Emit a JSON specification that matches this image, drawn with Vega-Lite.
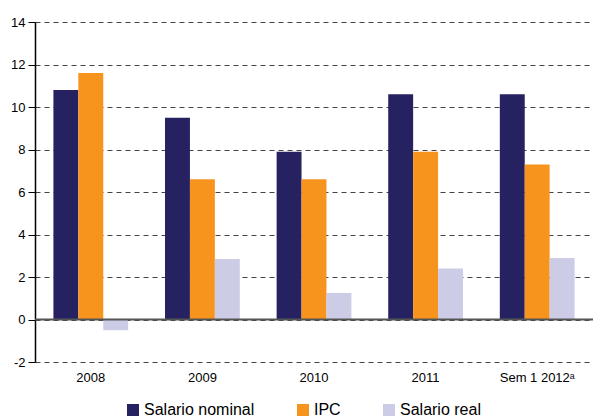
{
  "$schema": "https://vega.github.io/schema/vega-lite/v6.json",
  "autosize": {"type": "none"},
  "padding": {"left": 35, "top": 22, "right": 3, "bottom": 58},
  "width": 558,
  "height": 340,
  "background": "white",
  "config": {
    "font": "Liberation Sans",
    "view": {"stroke": null}
  },
  "data": {
    "values": [
      {"periodo": "2008", "serie": "Salario nominal", "valor": 10.8},
      {"periodo": "2008", "serie": "IPC", "valor": 11.6},
      {"periodo": "2008", "serie": "Salario real", "valor": -0.5},
      {"periodo": "2009", "serie": "Salario nominal", "valor": 9.5},
      {"periodo": "2009", "serie": "IPC", "valor": 6.6},
      {"periodo": "2009", "serie": "Salario real", "valor": 2.85},
      {"periodo": "2010", "serie": "Salario nominal", "valor": 7.9},
      {"periodo": "2010", "serie": "IPC", "valor": 6.6},
      {"periodo": "2010", "serie": "Salario real", "valor": 1.25},
      {"periodo": "2011", "serie": "Salario nominal", "valor": 10.6},
      {"periodo": "2011", "serie": "IPC", "valor": 7.9},
      {"periodo": "2011", "serie": "Salario real", "valor": 2.4},
      {"periodo": "Sem 1 2012ᵃ", "serie": "Salario nominal", "valor": 10.6},
      {"periodo": "Sem 1 2012ᵃ", "serie": "IPC", "valor": 7.3},
      {"periodo": "Sem 1 2012ᵃ", "serie": "Salario real", "valor": 2.9}
    ]
  },
  "layer": [
    {
      "mark": {"type": "bar"},
      "encoding": {
        "x": {
          "field": "periodo", "type": "nominal", "sort": null,
          "scale": {"paddingInner": 0.33, "paddingOuter": 0.165},
          "axis": {"title": null, "labelAngle": 0, "ticks": false, "domain": false, "labelFontSize": 13, "labelColor": "#000", "labelPadding": 9}
        },
        "xOffset": {"field": "serie", "type": "nominal", "sort": ["Salario nominal", "IPC", "Salario real"]},
        "y": {
          "field": "valor", "type": "quantitative",
          "scale": {"domain": [-2, 14], "nice": false},
          "axis": {"title": null, "values": [-2, 0, 2, 4, 6, 8, 10, 12, 14], "labelExpr": "replace(datum.label, '−', '-')", "gridDash": [5, 4], "gridColor": "#444", "gridOpacity": 1, "domainColor": "#000", "domainWidth": 1.5, "tickColor": "#000", "tickSize": 7, "labelFontSize": 13, "labelColor": "#000", "labelPadding": 3}
        },
        "color": {
          "field": "serie", "type": "nominal",
          "sort": ["Salario nominal", "IPC", "Salario real"],
          "scale": {"domain": ["Salario nominal", "IPC", "Salario real"], "range": ["#262262", "#F7941D", "#CCCCE6"]},
          "legend": {"title": null, "orient": "none", "legendX": 90, "legendY": 380, "direction": "horizontal", "symbolType": "square", "symbolSize": 144, "symbolStrokeWidth": 0, "labelFontSize": 16, "labelColor": "#000", "labelOffset": 3, "columnPadding": 40, "symbolOpacity": 1}
        }
      }
    },
    {
      "data": {"values": [{"y": 0}]},
      "mark": {"type": "rule", "color": "#555", "strokeWidth": 2},
      "encoding": {"y": {"field": "y", "type": "quantitative"}}
    }
  ]
}
